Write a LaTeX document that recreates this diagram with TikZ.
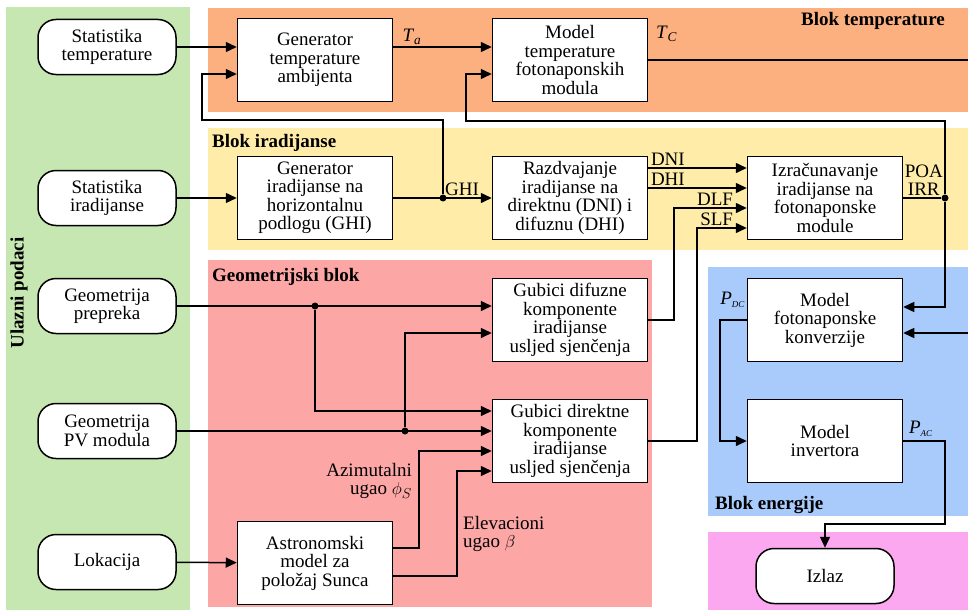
\documentclass[tikz,border=0pt]{standalone}
\usepackage{fontspec}
\setmainfont{Liberation Serif}
\usetikzlibrary{arrows.meta}

\definecolor{ulaz}{RGB}{198,231,177}
\definecolor{temp}{RGB}{252,176,128}
\definecolor{irad}{RGB}{254,236,168}
\definecolor{geom}{RGB}{252,166,166}
\definecolor{energ}{RGB}{169,203,251}
\definecolor{izlaz}{RGB}{251,168,240}

\begin{document}
\begin{tikzpicture}[x=1pt,y=-1pt,font=\fontsize{19}{18.5}\selectfont]
\tikzstyle{block}=[draw, fill=white, line width=1.5pt, minimum width=155pt, minimum height=83pt, align=center, inner sep=0pt]
\tikzstyle{term}=[draw, fill=white, line width=1.5pt, rounded corners=18pt, minimum width=138pt, minimum height=55pt, align=center, inner sep=0pt]
\tikzstyle{arr}=[line width=1.5pt, -{Triangle[length=11pt,width=10pt]}]
\tikzstyle{line}=[line width=1.5pt]
\tikzstyle{dot}=[circle, fill, inner sep=0pt, minimum size=7pt]
\tikzstyle{lab}=[inner sep=2pt]
\tikzstyle{title}=[inner sep=2pt, font=\fontsize{19}{18.5}\selectfont\bfseries]

\useasboundingbox (0,0) rectangle (968,610);
\clip (0,0) rectangle (968,610);

% pozadine blokova
\fill[ulaz] (6,7) rectangle (190,610);
\fill[temp] (208,8) rectangle (968,112);
\fill[irad] (208,128) rectangle (968,250);
\fill[geom] (208,260) rectangle (652,607);
\fill[energ] (708,267) rectangle (968,516);
\fill[izlaz] (708,532) rectangle (968,610);

\node[title, anchor=east] at (947,21) {Blok temperature};
\node[title, anchor=west] at (210,143) {Blok iradijanse};
\node[title, anchor=west] at (210,277) {Geometrijski blok};
\node[title, anchor=west] at (713,505) {Blok energije};
\node[title, rotate=90] at (19,293) {Ulazni podaci};

% ulazni podaci
\node[term] (st) at (107,47) {Statistika\\temperature};
\node[term] (si) at (107,198) {Statistika\\iradijanse};
\node[term] (gp) at (107,306) {Geometrija\\prepreka};
\node[term] (gm) at (107,431) {Geometrija\\PV modula};
\node[term] (lo) at (107,562) {Lokacija};
\node[term] (out) at (825,576) {Izlaz};

% blokovi modela
\node[block] (gt) at (315,60) {Generator\\temperature\\ambijenta};
\node[block] (mt) at (570,60) {Model\\temperature\\fotonaponskih\\modula};
\node[block] (gi) at (315,198) {Generator\\iradijanse na\\horizontalnu\\podlogu (GHI)};
\node[block] (rd) at (570,198) {Razdvajanje\\iradijanse na\\direktnu (DNI) i\\difuznu (DHI)};
\node[block] (ir) at (825,198) {Izračunavanje\\iradijanse na\\fotonaponske\\module};
\node[block] (gd) at (570,320) {Gubici difuzne\\komponente\\iradijanse\\usljed sjenčenja};
\node[block] (gr) at (570,441) {Gubici direktne\\komponente\\iradijanse\\usljed sjenčenja};
\node[block] (sun) at (315,563) {Astronomski\\model za\\položaj Sunca};
\node[block] (pv) at (825,320) {Model\\fotonaponske\\konverzije};
\node[block] (inv) at (825,441) {Model\\invertora};

% cvorovi grananja
\node[dot] (ghi) at (443,198) {};
\node[dot] (poa) at (945,198) {};
\node[dot] (pg) at (315,306) {};
\node[dot] (pm) at (405,431) {};

% temperatura
\draw[arr] (st) -- (gt.west |- st);
\draw[arr] (ghi) |- (202,120) |- ([yshift=-14pt]gt.west);
\draw[arr] ([yshift=13pt]gt.east) -- ([yshift=13pt]mt.west)
  node[lab, pos=.19, above] {\textit{T}\textsubscript{\textit{a}}};
\draw[arr] (mt) -- (990,60)
  node[lab, pos=0, anchor=south west, xshift=5pt, yshift=16pt] {\textit{T}\textsubscript{\textit{C}}}
  |- ([yshift=-13pt]pv.east);

% iradijansa
\draw[arr] (si) -- (gi);
\draw[arr] (gi) -- (rd);
\node[lab, above right] at (ghi) {GHI};
\draw[arr] ([yshift=30pt]rd.east) -- ([yshift=30pt]ir.west) node[lab, pos=0, above right] {DNI};
\draw[arr] ([yshift=10pt]rd.east) -- ([yshift=10pt]ir.west) node[lab, pos=0, above right] {DHI};
\draw[arr] (gd) -- (674,320) |- ([yshift=-10pt]ir.west) node[lab, pos=1, above left, xshift=-11pt] {DLF};
\draw[arr] (gr) -- (697,441) |- ([yshift=-30pt]ir.west) node[lab, pos=1, above left, xshift=-11pt] {SLF};
\draw[line] (ir) -- (poa);
\node[lab, above left, align=center] at (poa) {POA\\IRR};
\draw[arr] (poa) |- (466,121) |- ([yshift=-14pt]mt.west);
\draw[arr] (poa) |- ([yshift=13pt]pv.east);

% energija
\draw[arr] (pv) -- (720,320)
  node[lab, pos=0, anchor=south east, xshift=1pt, yshift=10pt] {\textit{P}\textsubscript{\textit{\fontsize{9}{9}\selectfont DC}}}
  |- (inv);
\draw[arr] (inv) -- (945,441)
  node[lab, pos=0, anchor=south west, xshift=3pt, yshift=2pt] {\textit{P}\textsubscript{\textit{\fontsize{9}{9}\selectfont AC}}}
  |- (825,524) -- (out);

% geometrija
\draw[arr] (gp) -- (gd.west |- gp);
\draw[arr] (pg) |- ([yshift=30pt]gr.west);
\draw[arr] (gm) -- (gr.west |- gm);
\draw[arr] (pm) |- ([yshift=-13pt]gd.west);
\draw[arr] (lo) -- (sun);
\draw[arr] ([yshift=15pt]sun.east) -- (419,548) |- ([yshift=-10pt]gr.west);
\draw[arr] ([yshift=-13pt]sun.east) -- (457,576) |- ([yshift=-30pt]gr.west);
\node[lab, anchor=east, align=right] at (414,481) {Azimutalni\\ugao $\phi_S$};
\node[lab, anchor=west, align=left] at (461,534) {Elevacioni\\ugao $\beta$};

\end{tikzpicture}
\end{document}
